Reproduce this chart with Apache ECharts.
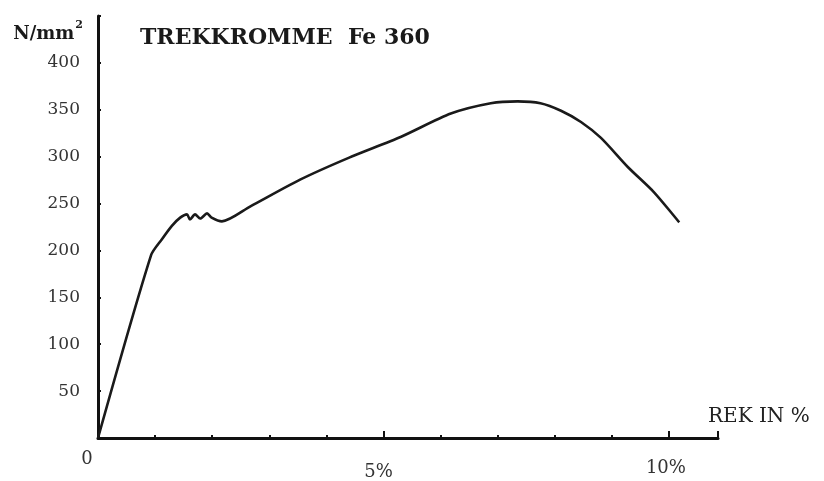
<!DOCTYPE html>
<html>
<head>
<meta charset="utf-8">
<script src="https://cdn.jsdelivr.net/npm/echarts@6/dist/echarts.min.js"></script>
<style>html,body{margin:0;padding:0;background:#fff}#c{width:824px;height:481px}</style>
</head>
<body>
<div id="c"></div>
<script>
// Strain in %, stress in N/mm²
const strain = [0, 0.93, 1.12, 1.29, 1.44, 1.56, 1.61, 1.70, 1.79, 1.91, 1.99, 2.17, 2.67, 3.54, 4.40, 5.30, 6.18, 6.88, 7.35, 7.75, 8.11, 8.46, 8.81, 9.28, 9.74, 10.18];
const stress = [0, 195, 212, 226, 235, 238.5, 233, 238.5, 234, 239.5, 235, 231, 247, 275.5, 299, 321, 346, 357, 359, 357, 349, 337, 320, 289, 262, 230];
const yTicks = [50, 100, 150, 200, 250, 300, 350, 400];
const xTickLabels = {0: '0', 5: '5%', 10: '10%'};
const titleText = 'TREKKROMME  Fe 360';
const xName = 'REK IN %';

const serif = 'DejaVu Serif';
const chart = echarts.init(document.getElementById('c'));
chart.setOption({
  backgroundColor: '#ffffff',
  animation: false,
  title: {
    text: titleText, left: 135, top: 22,
    textStyle: {fontFamily: serif, fontWeight: 'bold', fontSize: 22, color: '#1a1a1a'}
  },
  grid: {left: 98, right: 106, top: 16, bottom: 40},
  xAxis: [{
    type: 'value', min: 0, max: 10.86, interval: 1,
    name: xName, nameLocation: 'end', nameGap: -10,
    nameTextStyle: {fontFamily: serif, fontSize: 20, color: '#222', verticalAlign: 'bottom', padding: [0, 0, 11, 0]},
    axisLine: {show: true, lineStyle: {color: '#111', width: 3}},
    axisTick: {show: true, inside: true, length: 3, lineStyle: {color: '#111', width: 2}},
    splitLine: {show: false},
    axisLabel: {
      showMaxLabel: false,
      fontFamily: serif, fontSize: 18, color: '#333', margin: 8,
      formatter: v => {
        if (v === 0) return '{z|' + xTickLabels[0] + '}';
        if (v === 5) return '{f|' + xTickLabels[5] + '}';
        if (v === 10) return '{t|' + xTickLabels[10] + '}';
        return '';
      },
      rich: {
        z: {fontFamily: serif, fontSize: 18, color: '#333', padding: [4, 22, 0, 0]},
        f: {fontFamily: serif, fontSize: 18, color: '#333', padding: [17, 10, 0, 0]},
        t: {fontFamily: serif, fontSize: 18, color: '#333', padding: [13, 6, 0, 0]}
      }
    }
  }, {
    type: 'value', min: 0, max: 10.86, interval: 5, position: 'bottom',
    axisLine: {show: false},
    axisTick: {show: true, inside: true, length: 7, lineStyle: {color: '#111', width: 2}},
    axisLabel: {show: false}, splitLine: {show: false}
  }],
  yAxis: {
    type: 'value', min: 0, max: 450, interval: 50,
    name: '{a|N/mm}{s|2}', nameLocation: 'end', nameGap: -27,
    nameTextStyle: {
      align: 'right', padding: [0, 15, 0, 0],
      rich: {
        a: {fontFamily: serif, fontWeight: 'bold', fontSize: 18, color: '#1a1a1a', verticalAlign: 'bottom'},
        s: {fontFamily: serif, fontWeight: 'bold', fontSize: 11, color: '#1a1a1a', verticalAlign: 'top', padding: [0, 0, 12, 1]}
      }
    },
    axisLine: {show: true, lineStyle: {color: '#111', width: 3}},
    axisTick: {show: true, inside: true, length: 3, lineStyle: {color: '#111', width: 2}},
    splitLine: {show: false},
    axisLabel: {
      fontFamily: serif, fontSize: 17, color: '#333', margin: 18,
      formatter: v => yTicks.indexOf(v) >= 0 ? String(v) : ''
    }
  },
  series: [{
    type: 'line',
    data: strain.map((x, i) => [x, stress[i]]),
    showSymbol: false,
    smooth: 0.25,
    lineStyle: {color: '#1a1a1a', width: 2.6},
    z: 5
  }]
});
</script>
</body>
</html>
